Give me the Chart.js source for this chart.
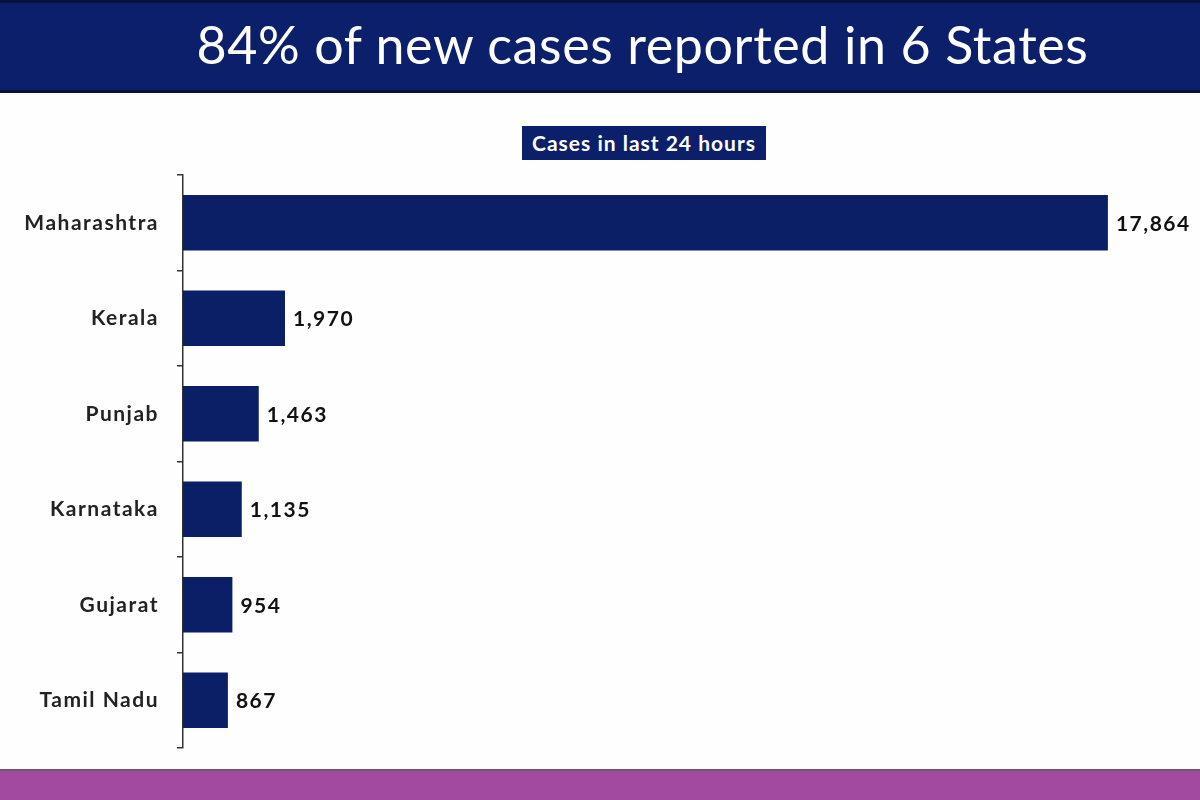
<!DOCTYPE html>
<html>
<head>
<meta charset="utf-8">
<script src="https://cdn.jsdelivr.net/npm/chart.js@4"></script>
<style>
  body { margin: 0; width: 1200px; height: 800px; background: #fefefe; position: relative; overflow: hidden; font-family: Lato, sans-serif; }
  #banner { position: absolute; left: 0; top: 0; width: 1200px; height: 93px; background: #0c1f6b; border-top: 3px solid #07123f; border-bottom: 3px solid #0a1236; box-sizing: border-box; }
  #banner h1 { margin: 0; position: absolute; left: 0; width: 1285px; text-align: center; top: 10px; color: #fff; font-weight: 400; font-size: 52px; letter-spacing: 0.6px; }
  #sub { position: absolute; left: 522px; top: 126px; width: 244px; height: 34px; background: #0c1f6b; color: #fff; font-weight: 700; font-size: 21px; letter-spacing: 1px; line-height: 34px; text-align: center; }
  #footer { position: absolute; left: 0; top: 769px; width: 1200px; height: 31px; background: #a24a9f; border-top: 2px solid #6e5a70; box-sizing: border-box; }
  #wrap { position: absolute; left: 0; top: 0; width: 1200px; height: 800px; }
</style>
</head>
<body>
<div id="banner"><h1>84% of new cases reported in 6 States</h1></div>
<div id="sub">Cases in last 24 hours</div>
<div id="wrap"><canvas id="chart"></canvas></div>
<div id="footer"></div>
<script>
// données : cas sur 24 heures
const states = ['Maharashtra', 'Kerala', 'Punjab', 'Karnataka', 'Gujarat', 'Tamil Nadu'];
const cases = [17864, 1970, 1463, 1135, 954, 867];

// espacement des lettres comme dans l'original
const spacing = {
    id: 'spacing',
    beforeDraw(chart) { chart.ctx.letterSpacing = '1.5px'; }
};

// étiquettes de valeur à droite des barres
const valueLabels = {
    id: 'valueLabels',
    afterDatasetsDraw(chart) {
        const ctx = chart.ctx;
        const meta = chart.getDatasetMeta(0);
        ctx.save();
        ctx.font = 'bold 21px Lato';
        ctx.letterSpacing = '1.5px';
        ctx.fillStyle = '#111';
        ctx.textBaseline = 'middle';
        meta.data.forEach((bar, i) => {
            ctx.fillText(cases[i].toLocaleString('en-US'), bar.x + 8, bar.y + 1);
        });
        ctx.restore();
    }
};

document.addEventListener('DOMContentLoaded', function() {
    const ctx = document.getElementById('chart');
    new Chart(ctx, {
        type: 'bar',
        data: {
            labels: states,
            datasets: [{
                data: cases,
                backgroundColor: '#0a1f66',
                categoryPercentage: 1,
                barPercentage: 0.58
            }]
        },
        plugins: [spacing, valueLabels],
        options: {
            indexAxis: 'y',
            responsive: true,
            maintainAspectRatio: false,
            animation: false,
            layout: { padding: { top: 175, bottom: 52, right: 10, left: 0 } },
            plugins: { legend: { display: false }, tooltip: { enabled: false } },
            scales: {
                x: { display: false, min: 0, max: 19450 },
                y: {
                    afterFit: (s) => { s.width = 183; },
                    grid: { drawOnChartArea: false, drawTicks: true, tickLength: 6, color: '#333', lineWidth: 1.5, offset: true },
                    border: { display: true, color: '#333', width: 1.5 },
                    ticks: { color: '#222', font: { family: 'Lato', size: 21, weight: 'bold' }, padding: 18 }
                }
            }
        }
    });
});
</script>
</body>
</html>
